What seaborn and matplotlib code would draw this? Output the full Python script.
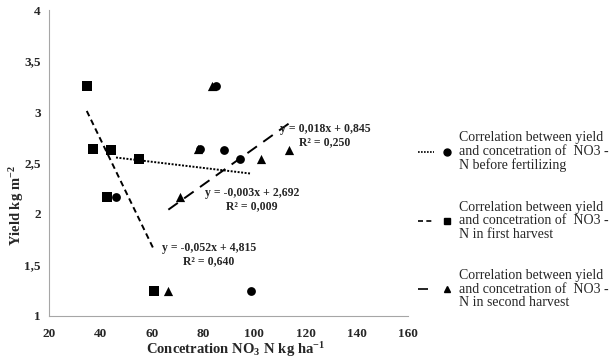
import matplotlib
matplotlib.use("Agg")
import matplotlib.pyplot as plt
import numpy as np
import pandas as pd
import seaborn as sns
from matplotlib.legend_handler import HandlerTuple
from matplotlib.lines import Line2D

# values
yield_vals = [3.26, 2.64, 2.63, 2.54, 2.17, 1.24]
before_x = [85.1, 78.9, 88.0, 94.5, 46.1, 98.8]
first_x = [34.7, 37.2, 44.3, 55.2, 42.6, 60.9]
second_x = [83.5, 78.1, 113.7, 102.5, 71.1, 66.5]

series_names = ["before", "first", "second"]
slopes = [-0.003, -0.052, 0.018]
intercepts = [2.692, 4.815, 0.845]
r2_vals = ["0,009", "0,640", "0,250"]
eq_labels = ["y = -0,003x + 2,692", "y = -0,052x + 4,815", "y = 0,018x + 0,845"]
legend_labels = [
    "Correlation between yield\nand concetration of  NO3 -\nN before fertilizing",
    "Correlation between yield\nand concetration of  NO3 -\nN in first harvest",
    "Correlation between yield\nand concetration of  NO3 -\nN in second harvest",
]

sns.set_style("white")
plt.rcParams["font.family"] = ["Liberation Serif", "DejaVu Serif"]
plt.rcParams["font.weight"] = "bold"
plt.rcParams["mathtext.fontset"] = "custom"
plt.rcParams["mathtext.rm"] = "Liberation Serif:bold"
plt.rcParams["mathtext.bf"] = "Liberation Serif:bold"
plt.rcParams["mathtext.it"] = "Liberation Serif:bold"

df = pd.DataFrame({
    "x": before_x + first_x + second_x,
    "y": yield_vals * 3,
    "series": [s for s in series_names for _ in yield_vals],
})

fig = plt.figure(figsize=(6.13, 3.61), dpi=100)
ax = fig.add_axes([0.080, 0.125, 0.586, 0.847])

markers = {"before": "o", "first": "s", "second": "^"}
sizes = {"before": 40, "first": 58, "second": 44}
for name in series_names:
    sub = df[df["series"] == name]
    sns.scatterplot(data=sub, x="x", y="y", marker=markers[name], s=sizes[name],
                    color="black", edgecolor="black", linewidth=0, ax=ax, legend=False, zorder=3)

# trend lines over each series' x range
line_styles = {"before": (0, (1, 0.8)), "first": (0, (3, 2)), "second": (0, (6, 4))}
for name, k, b in zip(series_names, slopes, intercepts):
    xs = df.loc[df["series"] == name, "x"]
    xx = np.array([xs.min(), xs.max()])
    lines = pd.DataFrame({"x": xx, "y": k * xx + b})
    sns.lineplot(data=lines, x="x", y="y", color="black", linewidth=1.4,
                 linestyle=line_styles[name], ax=ax, legend=False)

# equation labels
eq_pos = [(99.0, 2.14), (82.4, 1.60), (127.6, 2.77)]
for (tx, ty), eq, r2 in zip(eq_pos, eq_labels, r2_vals):
    ax.text(tx, ty, eq + "\nR² = " + r2, ha="center", va="center", fontsize=8.5,
            fontweight="bold", linespacing=1.15)

ax.set_xlim(20, 160)
ax.set_ylim(1, 4)
ax.set_xticks(range(20, 161, 20))
ax.set_yticks([1, 1.5, 2, 2.5, 3, 3.5, 4])
ax.set_yticklabels(["1", "1,5", "2", "2,5", "3", "3,5", "4"])
ax.tick_params(axis="both", length=3, width=0.8, color="#a6a6a6", pad=3,
               direction="out", labelsize=9.5)
ax.tick_params(axis="x", pad=6)
for side in ["top", "right"]:
    ax.spines[side].set_visible(False)
for side in ["left", "bottom"]:
    ax.spines[side].set_color("#a6a6a6")
    ax.spines[side].set_linewidth(0.8)

ax.set_xlabel(r"Concetration $\mathbf{NO_3\ N\ kg\ ha^{-1}}$", fontsize=10.5, fontweight="bold")
ax.set_ylabel(r"Yield $\mathbf{kg\ m^{-2}}$", fontsize=10.5, fontweight="bold")
ax.xaxis.set_label_coords(0.52, -0.08)
ax.yaxis.set_label_coords(-0.065, 0.36)

# legend: line sample, marker, multi-line text
handles = []
for name in series_names:
    ln = Line2D([], [], color="black", linewidth=1.2, linestyle=line_styles[name])
    mk = Line2D([], [], color="black", marker=markers[name], linestyle="none", markersize=5)
    handles.append((ln, mk))
leg = fig.legend(handles, legend_labels, handler_map={tuple: HandlerTuple(ndivide=2, pad=0.4)},
                 loc="center left", bbox_to_anchor=(0.662, 0.39), frameon=False,
                 prop={"family": "Liberation Serif", "weight": "normal", "size": 10},
                 handlelength=2.6, handletextpad=0.3, labelspacing=2.05)
for t in leg.get_texts():
    t.set_linespacing(1.05)

fig.savefig("out.png", dpi=100)
